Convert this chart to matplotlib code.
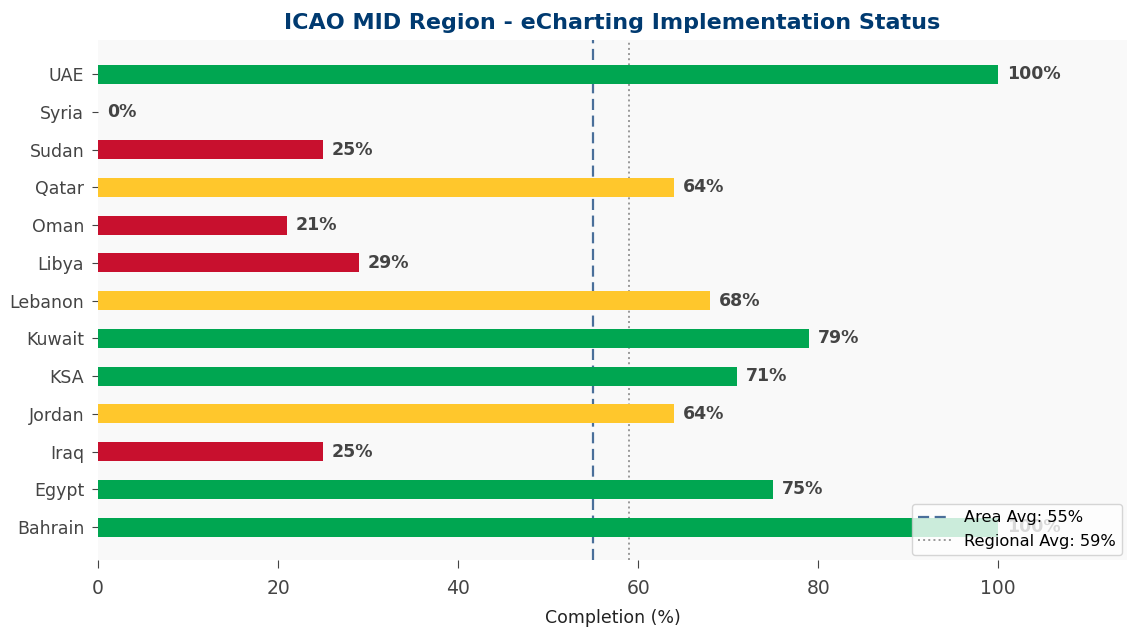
import matplotlib
matplotlib.use("Agg")
import matplotlib.pyplot as plt

plt.rcParams["font.family"] = ["DejaVu Sans"]

countries = ["Bahrain", "Egypt", "Iraq", "Jordan", "KSA", "Kuwait", "Lebanon",
             "Libya", "Oman", "Qatar", "Sudan", "Syria", "UAE"]
values = [100, 75, 25, 64, 71, 79, 68, 29, 21, 64, 25, 0, 100]
area_avg = 55
regional_avg = 59

GREEN = "#00a651"
YELLOW = "#ffc72c"
RED = "#c8102e"

def color_for(v):
    if v >= 70:
        return GREEN
    if v >= 50:
        return YELLOW
    return RED

colors = [color_for(v) for v in values]

fig = plt.figure(figsize=(11.27, 6.27), dpi=100)
ax = fig.add_axes([0.087, 0.107, 0.913, 0.829])
ax.set_facecolor("#f9f9f9")

y = list(range(len(countries)))
ax.barh(y, values, height=0.5, color=colors, zorder=2)

for yi, v in zip(y, values):
    ax.text(v + 1, yi, f"{v}%", va="center", ha="left", fontsize=12.5,
            fontweight="bold", color="#444444", zorder=3)

ax.axvline(area_avg, color="#4a6f9a", linestyle=(0, (5, 2.5)), linewidth=1.6,
           label=f"Area Avg: {area_avg}%", zorder=1)
ax.axvline(regional_avg, color="#999999", linestyle=":", linewidth=1.4,
           label=f"Regional Avg: {regional_avg}%", zorder=1)

ax.set_yticks(y)
ax.set_yticklabels(countries, fontsize=12.5, color="#444444")
ax.set_xlim(0, 114.3)
ax.set_ylim(-0.87, 12.9)
ax.set_xticks([0, 20, 40, 60, 80, 100])
ax.tick_params(axis="x", labelsize=13.5, colors="#444444", length=6, pad=8)
ax.tick_params(axis="y", colors="#444444", length=4, pad=6)
for s in ax.spines.values():
    s.set_visible(False)

ax.set_xlabel("Completion (%)", fontsize=12.5, color="#222222", labelpad=8)
ax.set_title("ICAO MID Region - eCharting Implementation Status",
             fontsize=16, fontweight="bold", color="#003a70", pad=8)

leg = ax.legend(loc="lower right", fontsize=11.7, frameon=True,
                framealpha=0.8, borderaxespad=0.3)
leg.get_frame().set_edgecolor("#cccccc")

fig.savefig("out.png", dpi=100)
